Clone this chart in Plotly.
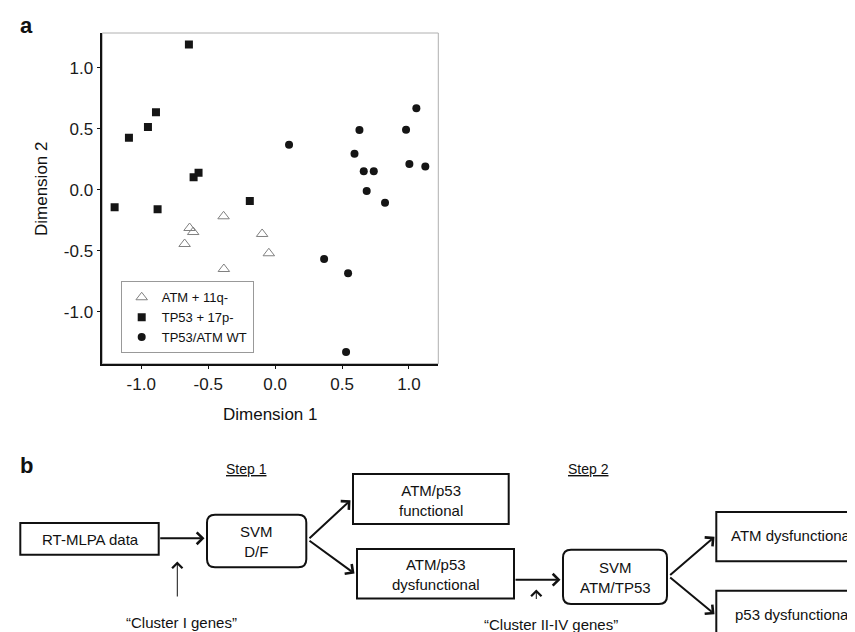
import plotly.graph_objects as go

W, H = 855, 632
FONT = "Liberation Sans, Arial, Helvetica, sans-serif"

# ---------------- Panel a data ----------------
series_names = ["ATM + 11q-", "TP53 + 17p-", "TP53/ATM WT"]
atm_x = [-0.639, -0.612, -0.676, -0.385, -0.383, -0.097, -0.047]
atm_y = [-0.314, -0.347, -0.445, -0.218, -0.650, -0.363, -0.521]
tp53_x = [-0.644, -1.092, -0.950, -0.890, -0.609, -0.572, -1.199, -0.878, -0.189]
tp53_y = [1.189, 0.426, 0.514, 0.634, 0.101, 0.139, -0.144, -0.161, -0.093]
wt_x = [0.104, 1.055, 0.630, 0.978, 0.593, 1.003, 1.122, 0.662, 0.737, 0.684, 0.821, 0.366, 0.545, 0.530]
wt_y = [0.369, 0.667, 0.489, 0.492, 0.295, 0.211, 0.189, 0.151, 0.151, -0.011, -0.107, -0.568, -0.685, -1.330]
tick_vals = [-1.0, -0.5, 0.0, 0.5, 1.0]
tick_text = ["-1.0", "-0.5", "0.0", "0.5", "1.0"]
x_title = "Dimension 1"
y_title = "Dimension 2"

# ---------------- Panel b labels ----------------
box_labels = ["RT-MLPA data", "SVM<br>D/F", "ATM/p53<br>functional", "ATM/p53<br>dysfunctional",
              "SVM<br>ATM/TP53", "ATM dysfunctional", "p53 dysfunctional"]
step_labels = ["Step 1", "Step 2"]
gene_labels = ["\u201cCluster I genes\u201d", "\u201cCluster II-IV genes\u201d"]
panel_labels = ["a", "b"]


def px(x):
    return x / W


def py(y):
    return 1 - y / H


fig = go.Figure()
fig.add_trace(go.Scatter(x=atm_x, y=atm_y, mode="markers", name=series_names[0],
                         marker=dict(symbol="triangle-up-open", size=10, color="#808080",
                                     line=dict(width=1, color="#808080"))))
fig.add_trace(go.Scatter(x=tp53_x, y=tp53_y, mode="markers", name=series_names[1],
                         marker=dict(symbol="square", size=8, color="#151515")))
fig.add_trace(go.Scatter(x=wt_x, y=wt_y, mode="markers", name=series_names[2],
                         marker=dict(symbol="circle", size=8, color="#151515")))

ax_left, ax_right, ax_top, ax_bottom = 94.3, 430.3, 25.0, 355.7

shapes = []
annotations = []

# frame (light top/right border)
shapes.append(dict(type="rect", xref="x domain", yref="y domain", x0=0, x1=1, y0=0, y1=1,
                   line=dict(color="#b0b0b0", width=1), layer="below"))


# ---------------- Panel b drawing ----------------
def rect(x0, y0, x1, y1):
    shapes.append(dict(type="rect", xref="paper", yref="paper",
                       x0=px(x0), x1=px(x1), y0=py(y0), y1=py(y1),
                       line=dict(color="#111", width=2)))


def rrect(x0, y0, x1, y1, r=8):
    pts = [("M", x0 + r, y0), ("L", x1 - r, y0), ("Q", x1, y0, x1, y0 + r), ("L", x1, y1 - r),
           ("Q", x1, y1, x1 - r, y1), ("L", x0 + r, y1), ("Q", x0, y1, x0, y1 - r),
           ("L", x0, y0 + r), ("Q", x0, y0, x0 + r, y0)]
    s = ""
    for p in pts:
        cmd = p[0]
        coords = p[1:]
        parts = []
        for i in range(0, len(coords), 2):
            parts.append(f"{px(coords[i]):.5f},{py(coords[i+1]):.5f}")
        s += cmd + " ".join(parts) + " "
    s += "Z"
    shapes.append(dict(type="path", xref="paper", yref="paper", path=s,
                       line=dict(color="#111", width=2)))


def text(x, y, t, size=15, xanchor="center", **kw):
    annotations.append(dict(x=px(x), y=py(y), xref="paper", yref="paper", text=t,
                            showarrow=False, xanchor=xanchor, yanchor="middle", borderpad=0,
                            font=dict(family=FONT, size=size, color="#111"), **kw))


def arrow(x0, y0, x1, y1, width=2, size=1.15):
    annotations.append(dict(x=px(x1), y=py(y1), xref="paper", yref="paper", text="",
                            showarrow=True, ax=x0 - x1, ay=y0 - y1, axref="pixel", ayref="pixel",
                            arrowhead=4, arrowsize=size, arrowwidth=width, arrowcolor="#111",
                            standoff=0, startstandoff=0))


rect(12.3, 515, 150.7, 546.7)
rrect(199, 506.7, 298.3, 559.3)
rect(345, 466, 500.7, 516)
rect(349, 541, 506, 590.5)
rrect(555, 541.7, 659, 596)
rect(708.3, 504, 870, 553.3)
rect(708.3, 582.7, 870, 631.7)

text(82, 531, box_labels[0])
text(248.7, 533, box_labels[1])
text(423, 492, box_labels[2])
text(427.5, 566, box_labels[3])
text(607, 569.5, box_labels[4])
text(721.5, 527.5, box_labels[5], xanchor="left")
text(725.5, 606, box_labels[6], xanchor="left")

text(238, 461, "<u>" + step_labels[0] + "</u>", size=14)
text(580.5, 461, "<u>" + step_labels[1] + "</u>", size=14)
text(173, 614.5, gene_labels[0], size=15)
text(542.5, 616.5, gene_labels[1], size=15)

arrow(150.7, 530.3, 196.5, 530.3)
arrow(300, 531.7, 342.5, 492.2)
arrow(300, 531.7, 346.5, 565.5)
arrow(506, 571.7, 552.5, 571.7)
arrow(660.7, 568.3, 706.5, 528.8)
arrow(660.7, 568.3, 706.5, 606.2)
arrow(169.3, 590, 169.3, 553.5, width=1, size=2)
arrow(528.3, 592.5, 528.3, 581.5, width=1, size=2)

# panel letters
text(18.5, 17, "<b>" + panel_labels[0] + "</b>", size=22)
text(18.5, 457, "<b>" + panel_labels[1] + "</b>", size=22)

# axis titles
text((ax_left + ax_right) / 2 + 0.5, 406.5, x_title, size=17)
text(34, 181, y_title, size=17, textangle=-90)

axis_common = dict(showgrid=False, zeroline=False, showline=True, linecolor="#111", linewidth=1.5,
                   ticks="outside", ticklen=4, tickwidth=1.2, tickcolor="#111",
                   tickvals=tick_vals, ticktext=tick_text,
                   tickfont=dict(family=FONT, size=17, color="#1a1a1a"), fixedrange=True)

fig.update_layout(
    width=W, height=H,
    margin=dict(l=0, r=0, t=0, b=0),
    paper_bgcolor="white", plot_bgcolor="white",
    xaxis=dict(domain=[px(ax_left), px(ax_right)], range=[-1.291, 1.219], **axis_common),
    yaxis=dict(domain=[py(ax_bottom), py(ax_top)], range=[-1.426, 1.284], **axis_common),
    shapes=shapes, annotations=annotations,
    showlegend=True,
    legend=dict(x=px(112.7), y=py(273.3), xanchor="left", yanchor="top",
                bgcolor="white", bordercolor="#999", borderwidth=1,
                font=dict(family=FONT, size=13, color="#111"), tracegroupgap=0,
                itemwidth=30),
    font=dict(family=FONT),
)

fig.write_html("out.html")
